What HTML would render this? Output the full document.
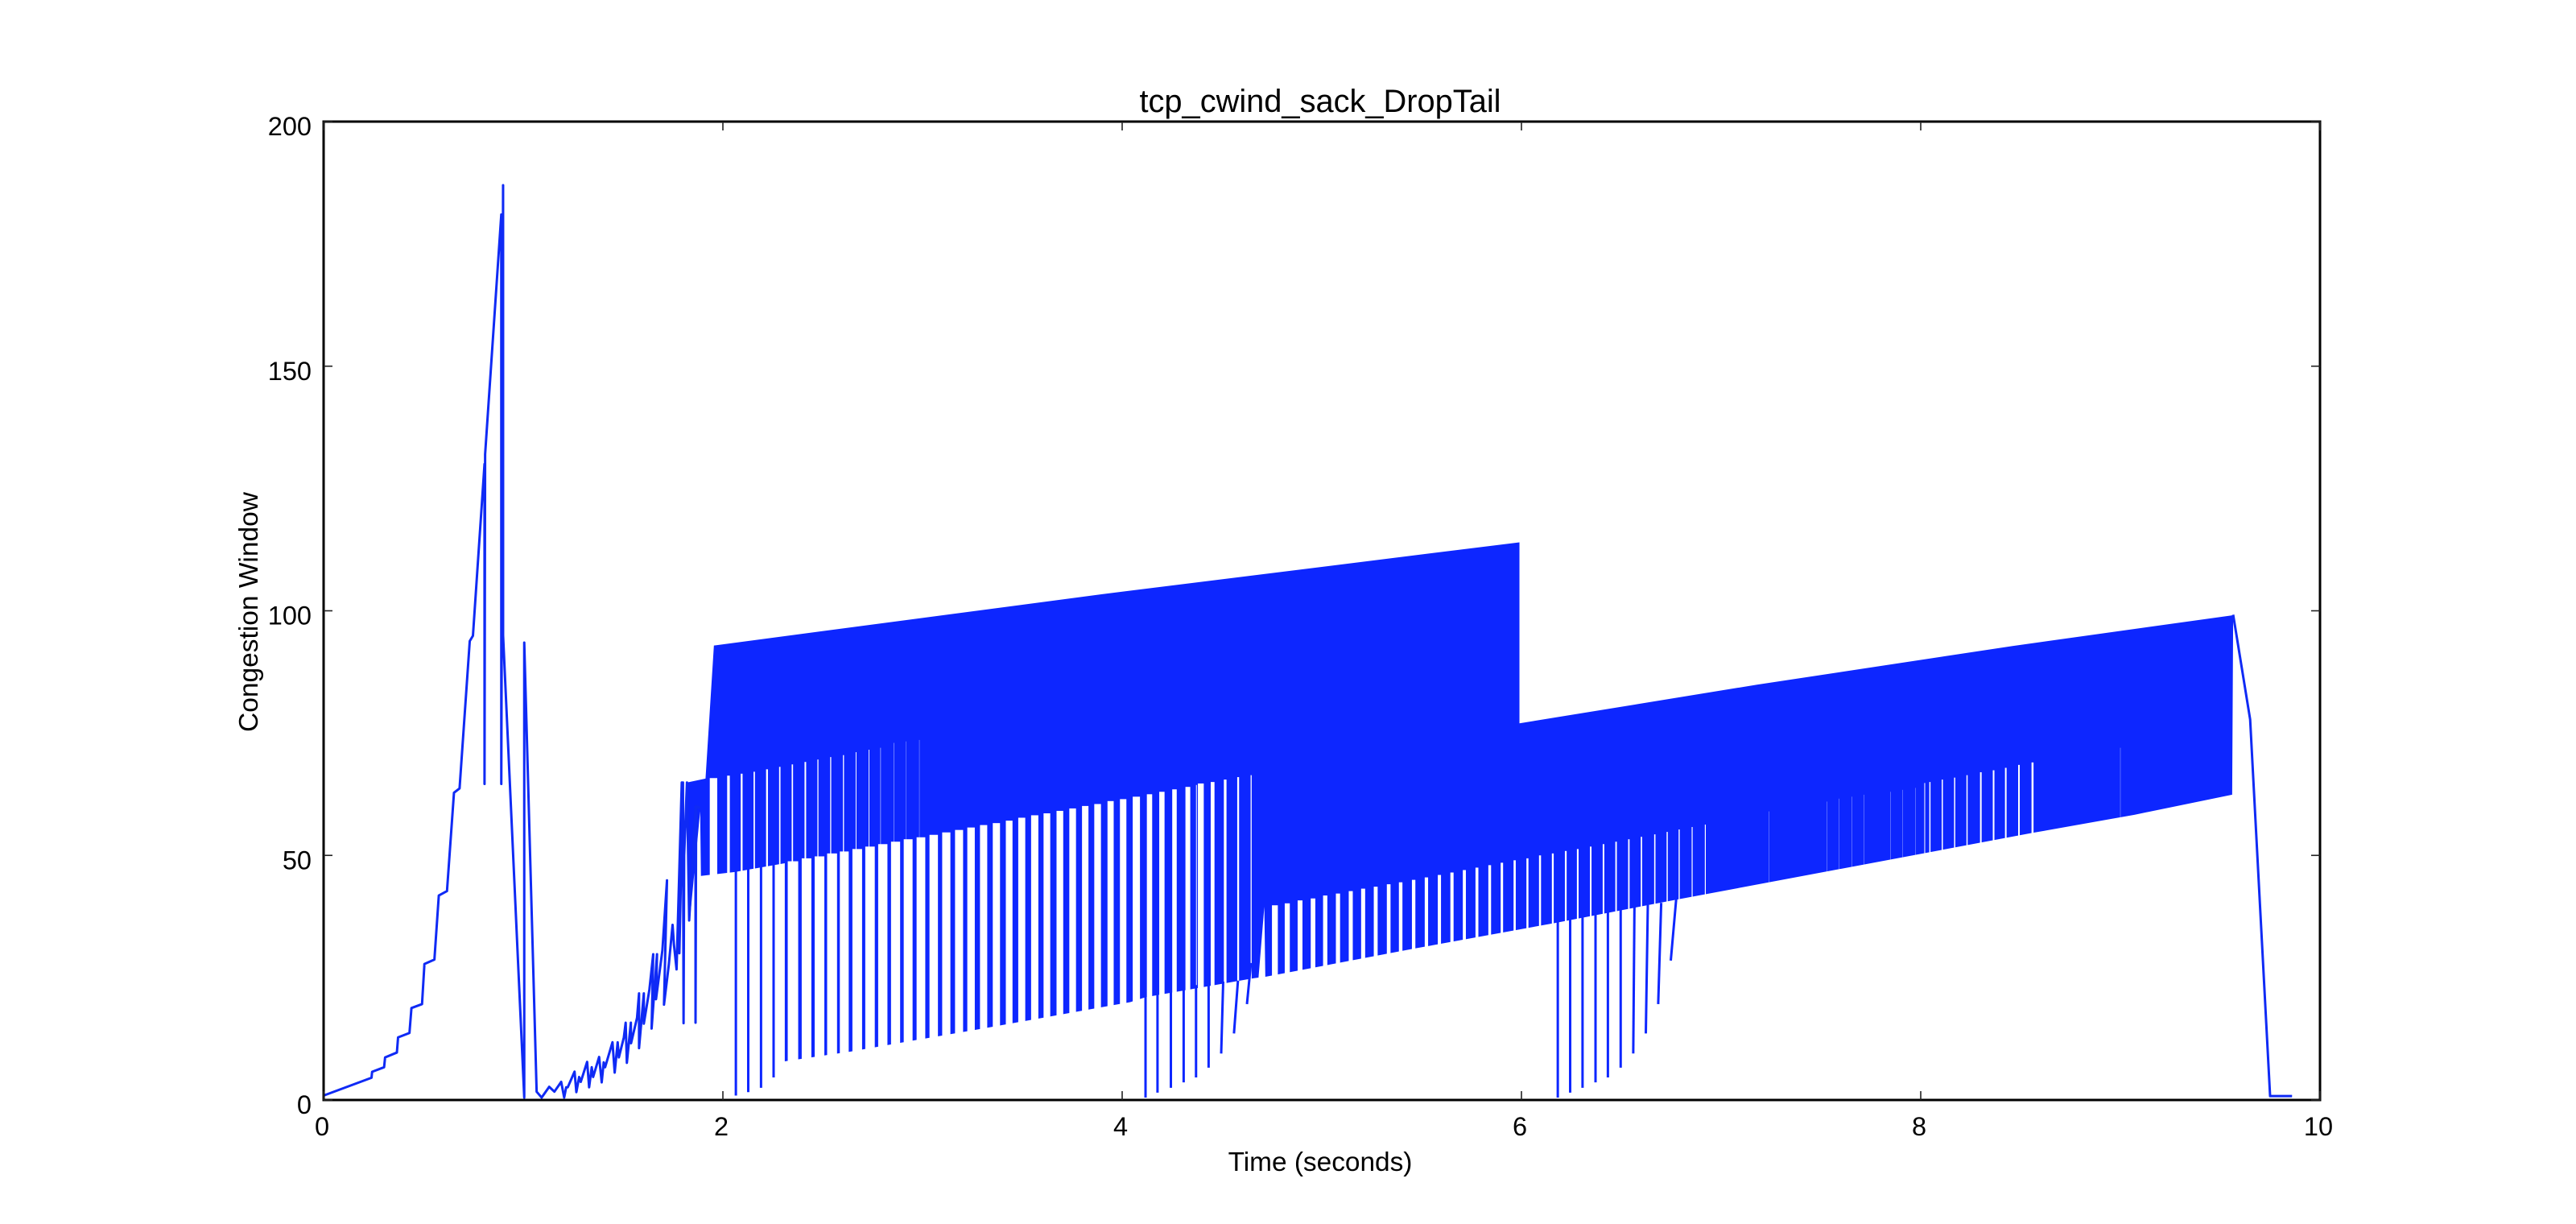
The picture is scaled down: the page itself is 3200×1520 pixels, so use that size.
<!DOCTYPE html>
<html lang="en">
<head>
<meta charset="utf-8">
<title>tcp_cwind_sack_DropTail</title>
<style>
html,body{margin:0;padding:0;background:#fff;width:3200px;height:1520px;overflow:hidden}
svg{display:block}
text{font-family:"Liberation Sans",Arial,sans-serif;fill:#000}
</style>
</head>
<body>
<svg id="chart" xmlns="http://www.w3.org/2000/svg" width="3200" height="1520" viewBox="0 0 3200 1520">
  <rect x="0" y="0" width="3200" height="1520" fill="#fff"/>
  <g id="plot"></g>
  <g id="axes"></g>
  <text x="1640" y="139" font-size="39.8" text-anchor="middle">tcp_cwind_sack_DropTail</text>
  <text x="1640" y="1454" font-size="33.4" text-anchor="middle">Time (seconds)</text>
  <text transform="translate(320,760) rotate(-90)" font-size="33.5" text-anchor="middle">Congestion Window</text>
</svg>
<script>
var xTickValues = [0, 2, 4, 6, 8, 10];
var yTickValues = [0, 50, 100, 150, 200];

var earlyTime = [0,.24,.243,.303,.308,.367,.373,.43,.44,.493,.505,.555,.577,.618,.653,.681,.732,.748,.806,.806,.809,.89,.89,.899,.899,1.005,1.005,1.067,1.092,1.13,1.156,1.19,1.205,1.215,1.223,1.257,1.266,1.28,1.288,1.32,1.33,1.343,1.35,1.38,1.393,1.403,1.41,1.447,1.458,1.473,1.479,1.504,1.513,1.519,1.539,1.54,1.57,1.58,1.58,1.604,1.604,1.632,1.651,1.643,1.67,1.665,1.697,1.72,1.705,1.729,1.748,1.755,1.768,1.794,1.782,1.80,1.803,1.806,1.82,1.831,1.85,1.863,1.863,1.866,1.887];
var earlyCwnd = [.9,4.55,5.76,6.7,8.7,9.7,12.8,13.7,18.8,19.6,27.8,28.7,41.8,42.7,62.8,63.7,93.8,94.9,130,64.6,132,181,64.6,187,95,.5,93.5,1.7,.5,2.7,1.7,3.7,.5,2.6,2.6,5.8,1.6,4.7,3.7,7.8,2.6,6.7,4.7,8.8,3.6,7.7,6.7,11.8,5.6,11.8,8.7,12.8,15.8,7.6,15.8,11.6,16.8,21.8,10.6,21.8,15.6,22.6,29.8,14.6,29.8,20.6,30.6,44.9,19.5,27.6,35.8,31.7,26.7,64.9,30,64.9,15.7,50,64.9,36.7,50,60,15.8,60,59.7];

var tailTime = [9.565,9.65,9.75,9.86];
var tailCwnd = [99.2,77.8,.8,.8];

var bandTopTime = [1.82,1.913,1.955,3.9,5.99,5.99,7.18,8.46,9.565];
var bandTopCwnd = [64.9,65.7,92.9,103.4,114,77,84.9,92.8,99.1];
var bandBottomTime = [1.82,1.835,1.886,1.89,2.06,2.31,2.31,2.64,2.96,3.274,4.04,4.117,4.66,4.72,5.47,6.17,6.77,8.56,9.07,9.56];
var bandBottomCwnd = [60,37,59,45.8,46.6,48.4,7.9,9.9,12.2,14.4,20,21,24.9,25.2,31,36.2,40.9,54.6,58.3,62.4];

var slitTime = [2.028,2.094,2.157,2.221,2.285,2.348,2.413,2.476,2.54,2.604,2.667,2.732,2.79,2.858,2.917,2.984];
var slitTop = [66.3,66.7,67.1,67.6,68.1,68.6,69.1,69.6,70.1,70.5,71.1,71.6,72,73,73.3,73.6];
var slitWidth = [.0133,.0093,.0069,.0093,.0069,.0069,.0081,.0052,.0052,.0052,.004,.0036,.002,.0016,.0012,.0012];

var gapTime = [1.953,2.351,2.419,2.484,2.547,2.608,2.673,2.737,2.801,2.865,2.928,2.992,3.056,3.119,3.183,3.243,3.306,3.37,3.434,3.497,3.562,3.623,3.688,3.752,3.815,3.877,3.942,4.005,4.071,4.137,4.199,4.262,4.329,4.372,4.394,4.453,4.516,4.581,4.646,
4.765,4.827,4.891,4.956,5.017,5.081,5.145,5.207,5.27,5.335,5.395,5.46,5.524,5.589,5.652,5.714,5.777,5.841,5.902,5.966,6.03,6.093,6.157,6.222,6.282,6.347,6.411,6.474,6.538,6.601,6.668,6.73,6.79,6.855,6.921,
7.24,7.53,7.59,7.655,7.717,7.85,7.91,7.974,8.02,8.046,8.108,8.17,8.232,8.301,8.365,8.426,8.492,8.56,9.0];
var gapTop = [65.8,48.8,49.4,49.8,50.4,50.8,51.3,51.8,52.3,52.8,53.3,53.7,54.2,54.7,55.2,55.7,56.2,56.6,57.1,57.7,58.2,58.6,59.1,59.6,60.1,60.5,61.1,61.5,62,62.5,63,63.5,64,64.4,64.7,65,65.5,66,66.4,
39.8,40.2,40.8,41.2,41.8,42.2,42.7,43.2,43.6,44.1,44.5,45,45.5,46,46.5,47,47.5,48,48.5,49,49.4,50,50.4,50.9,51.3,51.8,52.3,52.8,53.3,53.8,54.3,54.8,55.3,55.8,56.3,
59,61,61.6,62,62.4,63,63.4,63.8,64.8,65,65.5,65.9,66.4,67,67.4,67.9,68.5,69,72];
var gapWidth = [.0375,.0524,.0484,.0484,.0496,.0444,.0484,.0476,.0464,.0456,.0444,.0435,.0423,.0411,.0403,.0375,.0363,.0363,.0335,.0351,.0363,.0335,.0335,.0335,.0323,.0335,.031,.0323,.0363,.0266,.0266,.0226,.0242,.004,.0294,.019,.0133,.0093,.0052,
.0294,.0254,.0242,.023,.0214,.021,.0202,.0202,.0194,.0185,.0177,.0173,.0169,.0161,.0161,.0153,.0145,.0137,.0121,.0109,.0101,.0101,.0093,.0089,.0085,.0081,.0081,.0077,.0073,.0069,.0065,.006,.0056,.0048,.0048,
.0012,.0012,.0012,.0012,.0012,.0012,.0012,.0012,.004,.006,.006,.006,.006,.0081,.0081,.0081,.0081,.0101,.0012];

var wedgeTime = [4.683,4.712,4.717];
var wedgeCwnd = [25,39.5,25];

var spikeTime = [2.065,2.127,2.191,2.254,4.117,4.177,4.244,4.308,4.37,4.433,4.496,4.56,4.625,6.182,6.244,6.306,6.371,6.433,6.497,6.56,6.623,6.685,6.748];
var spikeTopTime = [2.065,2.127,2.191,2.254,4.117,4.177,4.244,4.308,4.37,4.433,4.506,4.58,4.645,6.182,6.244,6.306,6.371,6.433,6.497,6.566,6.633,6.7,6.775];
var spikeTop = [46.8,47.2,47.6,48.1,21.5,22,22.5,23,23.5,23.8,24.2,24.4,28,36.4,37,37.5,38,38.5,39,39.4,39.9,40.3,41];
var spikeFloor = [.9,1.6,2.5,4.6,.5,1.5,2.5,3.6,4.6,6.6,9.5,13.6,19.6,.5,1.5,2.5,3.6,4.6,6.6,9.5,13.6,19.6,28.5];

var NS = 'http://www.w3.org/2000/svg';
var BLUE = '#0d26ff';
var plot = document.getElementById('plot');
var axes = document.getElementById('axes');

function xPos(t){ return 402 + t * 248; }
function yPos(v){ return 1366 - v * 6.075; }
function pts(ts, vs){
  var out = [];
  for (var i = 0; i < ts.length; i++) out.push(xPos(ts[i]).toFixed(2) + ',' + yPos(vs[i]).toFixed(2));
  return out;
}
function shape(parent, tag, attrs){
  var el = document.createElementNS(NS, tag);
  for (var k in attrs) el.setAttribute(k, attrs[k]);
  parent.appendChild(el);
  return el;
}

var bandPoints = pts(bandTopTime, bandTopCwnd).concat(pts(bandBottomTime, bandBottomCwnd).reverse());
var band = shape(plot, 'polygon', {points: bandPoints.join(' '), fill: BLUE});



for (var i = 0; i < slitTime.length; i++) {
  var w = slitWidth[i] * 248;
  var slit = shape(plot, 'rect', {x: xPos(slitTime[i]) - w / 2, y: yPos(slitTop[i]), width: w, height: yPos(0) - yPos(slitTop[i]), fill: '#fff'});
  
  
}
for (var j = 0; j < gapTime.length; j++) {
  var gw = gapWidth[j] * 248;
  var gap = shape(plot, 'rect', {x: xPos(gapTime[j]) - gw / 2, y: yPos(gapTop[j]), width: gw, height: yPos(0) - yPos(gapTop[j]), fill: '#fff'});
  
  
}
var wedge = shape(plot, 'polygon', {points: pts(wedgeTime, wedgeCwnd).join(' '), fill: '#fff'});



for (var s = 0; s < spikeTime.length; s++) {
  var spike = shape(plot, 'line', {x1: xPos(spikeTopTime[s]), x2: xPos(spikeTime[s]), y1: yPos(spikeTop[s]), y2: yPos(spikeFloor[s]), stroke: BLUE, 'stroke-width': 3});
  
  
}

var early = shape(plot, 'polyline', {points: pts(earlyTime, earlyCwnd).join(' '), fill: 'none', stroke: '#0f2af5', 'stroke-width': 3, 'stroke-linejoin': 'round'});



var tail = shape(plot, 'polyline', {points: pts(tailTime, tailCwnd).join(' '), fill: 'none', stroke: '#0f2af5', 'stroke-width': 3, 'stroke-linejoin': 'round'});



var frame = shape(axes, 'rect', {x: xPos(0), y: yPos(200), width: xPos(10) - xPos(0), height: yPos(0) - yPos(200), fill: 'none', stroke: '#000', 'stroke-width': 3});



for (var a = 0; a < xTickValues.length; a++) {
  var xv = xTickValues[a];
  var tb = shape(axes, 'line', {x1: xPos(xv), x2: xPos(xv), y1: yPos(0), y2: yPos(0) - 11, stroke: '#222', 'stroke-width': 1.6});
  
  
  var tt = shape(axes, 'line', {x1: xPos(xv), x2: xPos(xv), y1: yPos(200), y2: yPos(200) + 11, stroke: '#222', 'stroke-width': 1.6});
  
  
  var xl = shape(axes, 'text', {x: xPos(xv) - 2, y: 1410, 'font-size': 32.5, 'text-anchor': 'middle'});
  xl.textContent = String(xv);
  
  
}
for (var b = 0; b < yTickValues.length; b++) {
  var yv = yTickValues[b];
  var tl = shape(axes, 'line', {x1: xPos(0), x2: xPos(0) + 11, y1: yPos(yv), y2: yPos(yv), stroke: '#222', 'stroke-width': 1.6});
  
  
  var tr = shape(axes, 'line', {x1: xPos(10), x2: xPos(10) - 11, y1: yPos(yv), y2: yPos(yv), stroke: '#222', 'stroke-width': 1.6});
  
  
  var yl = shape(axes, 'text', {x: 387, y: yPos(yv) + 17, 'font-size': 32.5, 'text-anchor': 'end'});
  yl.textContent = String(yv);
  
  
}
</script>
</body>
</html>
